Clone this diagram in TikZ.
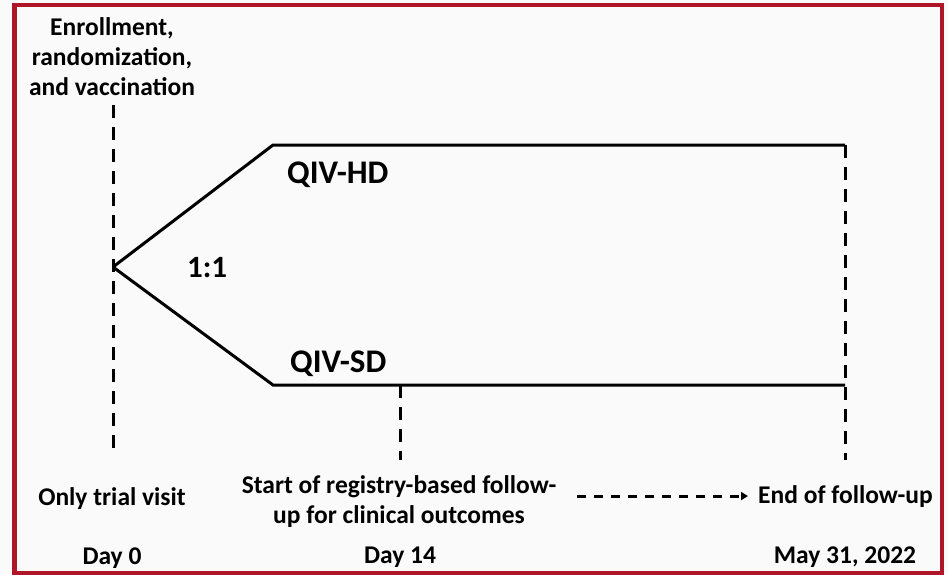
\documentclass[tikz,border=0pt]{standalone}
\usepackage{fontspec}
\setmainfont{Carlito}
\usetikzlibrary{arrows.meta}
\definecolor{framered}{RGB}{175,22,40}
\definecolor{paper}{RGB}{250,250,250}
\begin{document}
\begin{tikzpicture}[x=1pt,y=-1pt,
	arm/.style={line width=3pt,line join=miter},
	guide/.style={line width=3pt,dash pattern=on 13pt off 9pt},
	txt/.style={inner sep=0pt,font=\fontsize{25.5}{30}\selectfont\bfseries},
	bigtxt/.style={inner sep=0pt,font=\fontsize{33}{38}\selectfont\bfseries}]
	\useasboundingbox (0,0) rectangle (948,574);
	\fill[paper] (0,0) rectangle (948,574);
	\draw[framered,line width=4.5pt] (14.5,5) rectangle (942,573);
	
	% the two arms
	\coordinate (root) at (113,267);
	\coordinate (hdstart) at (273,145);
	\coordinate (hdend) at (845,145);
	\coordinate (sdstart) at (273,385);
	\coordinate (sdend) at (845,385);
	\coordinate (day14top) at (400,385);
	\draw[arm] (root)--(hdstart)--(hdend);
	\draw[arm] (root)--(sdstart)--(sdend);
	
	% time marks
	\coordinate (day0top) at (113,105);
	\coordinate (day0bot) at (113,455);
	\coordinate (day14bot) at (400,460);
	\coordinate (endbot) at (845,460);
	\draw[guide] (day0top)--(day0bot);
	\draw[guide] (day14top)--(day14bot);
	\draw[guide] (hdend)--(endbot);
	
	\node[txt,anchor=north,align=center] (enroll) at (112,17) {Enrollment,\\randomization,\\and vaccination};
	\node[bigtxt,anchor=base west] (hd) at (287,183) {QIV-HD};
	\node[bigtxt,anchor=base west] (sd) at (290,372) {QIV-SD};
	\node[bigtxt,anchor=base west,font=\fontsize{31}{36}\selectfont\bfseries] (ratio) at (187,277) {1:1};
	
	\node[txt,anchor=base] (visit) at (112,505) {Only trial visit};
	\node[txt,anchor=north,align=center] (start) at (399,475.5) {Start of registry-based follow-\\up for clinical outcomes};
	\node[txt,anchor=base west] (endfu) at (758,503) {End of follow-up};
	\coordinate (arrowstart) at (577,0);
	\draw[line width=3pt,dash pattern=on 9pt off 8pt,-{Triangle[length=7pt,width=8pt]}] (arrowstart |- endfu.west)--([xshift=-10pt]endfu.west);
	
	\node[txt,anchor=base] (d0) at (112,564) {Day 0};
	\node[txt,anchor=base] (d14) at (400,563) {Day 14};
	\node[txt,anchor=base] (dend) at (845,563) {May 31, 2022};
\end{tikzpicture}
\end{document}
